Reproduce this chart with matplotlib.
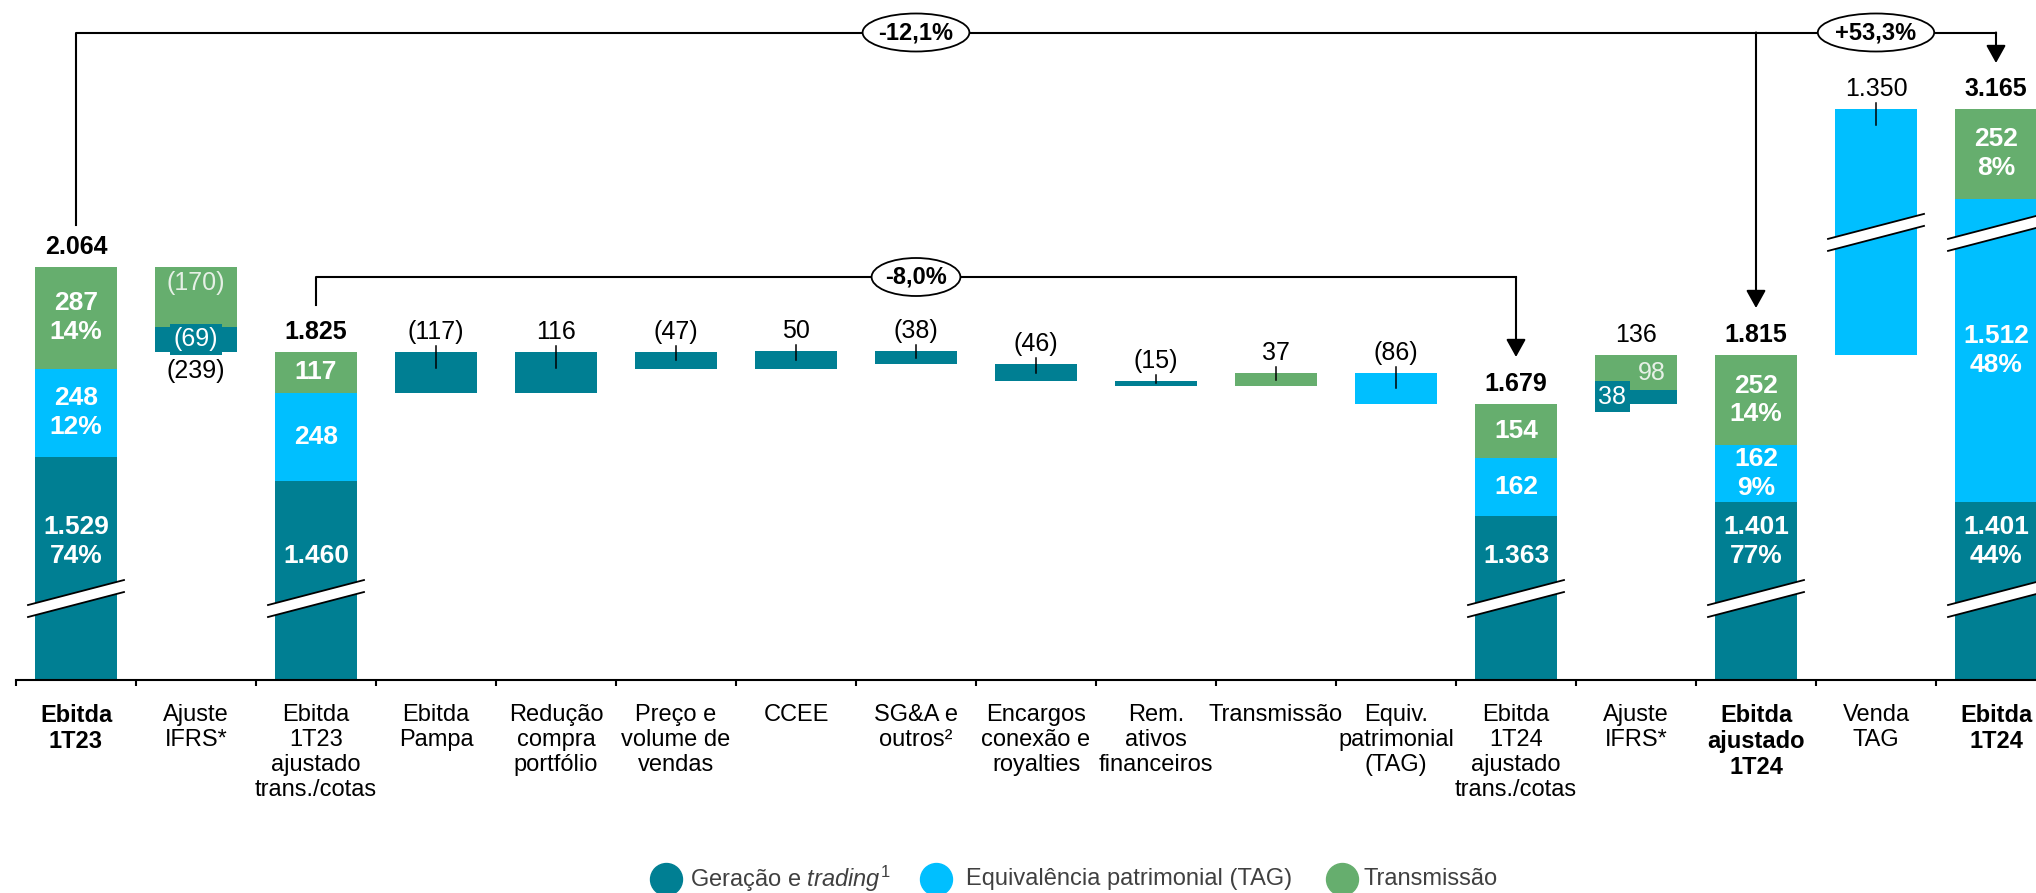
import matplotlib.pyplot as plt
from matplotlib.patches import Ellipse, Polygon
from matplotlib.lines import Line2D

plt.rcParams['font.family'] = ['Liberation Sans', 'DejaVu Sans']
plt.rcParams['mathtext.fontset'] = 'custom'
plt.rcParams['mathtext.rm'] = 'Liberation Sans'
plt.rcParams['mathtext.it'] = 'Liberation Sans:italic'

# ---- data (R$ milhões) ----
categories = ['Ebitda\n1T23', 'Ajuste\nIFRS*', 'Ebitda\n1T23\najustado\ntrans./cotas',
              'Ebitda\nPampa', 'Redução\ncompra\nportfólio', 'Preço e\nvolume de\nvendas',
              'CCEE', 'SG&A e\noutros²', 'Encargos\nconexão e\nroyalties',
              'Rem.\nativos\nfinanceiros', 'Transmissão', 'Equiv.\npatrimonial\n(TAG)',
              'Ebitda\n1T24\najustado\ntrans./cotas', 'Ajuste\nIFRS*',
              'Ebitda\najustado\n1T24', 'Venda\nTAG', 'Ebitda\n1T24']
bold_cats = [0, 14, 16]

# segments: geração e trading, equivalência (TAG), transmissão
ebitda_1t23 = [1529, 248, 287]
share_1t23 = [74, 12, 14]
ajuste_1t23 = [-69, -170]          # geração, transmissão
ebitda_1t23_aj = [1460, 248, 117]
var_values = [-117, 116, -47, 50, -38, -46, -15, 37, -86]
var_segment = [0, 0, 0, 0, 0, 0, 0, 2, 1]
ebitda_1t24_aj = [1363, 162, 154]
ajuste_1t24 = [38, 98]             # geração, transmissão
ebitda_aj_1t24 = [1401, 162, 252]
share_aj_1t24 = [77, 9, 14]
venda_tag = 1350
ebitda_1t24 = [1401, 1512, 252]
share_1t24 = [44, 48, 8]
changes = ['-12,1%', '-8,0%', '+53,3%']
legend_labels = ['Geração e $\\mathit{trading}^{1}$', 'Equivalência patrimonial (TAG)', 'Transmissão']

TEAL, BLUE, GREEN = '#007f93', '#00bfff', '#66ae6e'
colors = [TEAL, BLUE, GREEN]
LIGHT = '#e6f0e6'

# ---- layout ----
W, H = 2036, 893
BASE_PX = 680
PPU = 0.3558            # pixels per R$ mi
Y0 = 902                # value at the (cut) baseline
CUT = 658               # amount hidden by the upper break
LOW_BREAK = 1131
HIGH_BREAK = 2160
BW = 0.68
FS = 18
FS_IN = 19


def px(n):
    return n / PPU


def pix2val(p):
    return Y0 + (BASE_PX - p) / PPU


def fmt(v):
    s = f'{abs(v):,}'.replace(',', '.')
    return f'({s})' if v < 0 else s


fig = plt.figure(figsize=(W / 100, H / 100), dpi=100)
ax = fig.add_axes([16 / W, (H - BASE_PX) / H, 1 - 16 / W, BASE_PX / H])
ax.set_xlim(-0.5, 16.5 - 20 / 120)
ax.set_ylim(Y0, pix2val(0))
for s in ['top', 'right', 'left']:
    ax.spines[s].set_visible(False)
ax.spines['bottom'].set_linewidth(1.5)
ax.set_yticks([])
ax.set_xticks([i - 0.5 for i in range(17)])
ax.set_xticklabels([])
ax.tick_params(axis='x', direction='out', length=4.5, width=1.5)


def label_above(x, top, text, bold=False, line=False, bottom=None):
    ax.annotate(text, (x, top), xytext=(0, 14.4), textcoords='offset points',
                ha='center', va='center', fontsize=FS,
                fontweight='bold' if bold else 'normal', annotation_clip=False)
    if line:
        depth = min(px(16), (top - bottom) * 0.5)
        ax.plot([x, x], [top + px(6), top - depth], color='black', lw=1.1, zorder=4)


def brk(x, y):
    half, rise, gap = 0.40, px(12.5), px(6)
    poly = [(x - half, y - gap - rise), (x + half, y - gap + rise),
            (x + half, y + gap + rise), (x - half, y + gap - rise)]
    ax.add_patch(Polygon(poly, closed=True, facecolor='white', edgecolor='none',
                         zorder=3, clip_on=False))
    for g in (-gap, gap):
        ax.plot([x - half, x + half], [y + g - rise, y + g + rise], color='black',
                lw=1.3, zorder=4, clip_on=False)


def stacked(x, parts, shares=None, cut=(0, 0, 0)):
    bottom = 0
    for k, (v, c) in enumerate(zip(parts, colors)):
        h = v - cut[k]
        ax.bar(x, h, bottom=bottom, width=BW, color=c, linewidth=0, zorder=2)
        txt = fmt(v) if shares is None else f'{fmt(v)}\n{shares[k]}%'
        if k == 0:
            ty = 1250 if shares is None else 1292
        else:
            ty = bottom + h / 2
        ax.text(x, ty, txt, ha='center', va='center', color='white', fontsize=FS_IN,
                fontweight='bold', linespacing=1.25, zorder=5)
        bottom += h
    return bottom


# Ebitda 1T23
top = stacked(0, ebitda_1t23, share_1t23)
label_above(0, top, fmt(sum(ebitda_1t23)), bold=True)
brk(0, LOW_BREAK)

# Ajuste IFRS 1T23
lvl = sum(ebitda_1t23)
ax.bar(1, ajuste_1t23[1], bottom=lvl, width=BW, color=GREEN, linewidth=0, zorder=2)
ax.annotate(fmt(ajuste_1t23[1]), (1, lvl), xytext=(0, -11.5), textcoords='offset points',
            ha='center', va='center', fontsize=FS, color=LIGHT, zorder=5)
lvl += ajuste_1t23[1]
ax.bar(1, ajuste_1t23[0], bottom=lvl, width=BW, color=TEAL, linewidth=0, zorder=2)
ax.text(1, lvl + ajuste_1t23[0] / 2, fmt(ajuste_1t23[0]), ha='center', va='center',
        fontsize=FS, color='white', zorder=5,
        bbox=dict(facecolor=TEAL, edgecolor='none', pad=2.5))
lvl += ajuste_1t23[0]
ax.annotate(fmt(sum(ajuste_1t23)), (1, lvl), xytext=(0, -14), textcoords='offset points',
            ha='center', va='center', fontsize=FS)

# Ebitda 1T23 ajustado
top = stacked(2, ebitda_1t23_aj)
label_above(2, top, fmt(sum(ebitda_1t23_aj)), bold=True)
brk(2, LOW_BREAK)

# variations
lvl = sum(ebitda_1t23_aj)
for i, (v, seg) in enumerate(zip(var_values, var_segment)):
    x = 3 + i
    ax.bar(x, v, bottom=lvl, width=BW, color=colors[seg], linewidth=0, zorder=2)
    t, b = max(lvl, lvl + v), min(lvl, lvl + v)
    label_above(x, t, fmt(v), line=True, bottom=b)
    lvl += v

# Ebitda 1T24 ajustado
top = stacked(12, ebitda_1t24_aj)
label_above(12, top, fmt(sum(ebitda_1t24_aj)), bold=True)
brk(12, LOW_BREAK)

# Ajuste IFRS 1T24
lvl = sum(ebitda_1t24_aj)
ax.bar(13, ajuste_1t24[0], bottom=lvl, width=BW, color=TEAL, linewidth=0, zorder=2)
ax.text(13 - 0.2, lvl + ajuste_1t24[0] / 2, fmt(ajuste_1t24[0]), ha='center', va='center',
        fontsize=FS, color='white', zorder=5,
        bbox=dict(facecolor=TEAL, edgecolor='none', pad=2.5))
lvl += ajuste_1t24[0]
ax.bar(13, ajuste_1t24[1], bottom=lvl, width=BW, color=GREEN, linewidth=0, zorder=2)
ax.text(13 + 0.13, lvl + ajuste_1t24[1] / 2, fmt(ajuste_1t24[1]), ha='center', va='center',
        fontsize=FS, color=LIGHT, zorder=5)
lvl += ajuste_1t24[1]
label_above(13, lvl, fmt(sum(ajuste_1t24)))

# Ebitda ajustado 1T24
top = stacked(14, ebitda_aj_1t24, share_aj_1t24)
label_above(14, top, fmt(sum(ebitda_aj_1t24)), bold=True)
brk(14, LOW_BREAK)

# Venda TAG
lvl = sum(ebitda_aj_1t24)
ax.bar(15, venda_tag - CUT, bottom=lvl, width=BW, color=BLUE, linewidth=0, zorder=2)
label_above(15, lvl + venda_tag - CUT, fmt(venda_tag), line=True, bottom=lvl)
brk(15, HIGH_BREAK)

# Ebitda 1T24
top = stacked(16, ebitda_1t24, share_1t24, cut=(0, CUT, 0))
label_above(16, top, fmt(sum(ebitda_1t24)), bold=True)
brk(16, LOW_BREAK)
brk(16, HIGH_BREAK)

# category labels
for i, c in enumerate(categories):
    ax.annotate(c, (i, 0), xycoords=('data', 'axes fraction'), xytext=(0, -17.5),
                textcoords='offset points', ha='center', va='top', fontsize=17,
                fontweight='bold' if i in bold_cats else 'normal', linespacing=1.17,
                annotation_clip=False)

# connectors
arrow = dict(arrowstyle='-|>,head_length=0.45,head_width=0.25', color='black', lw=1.5,
             mutation_scale=24, shrinkA=0, shrinkB=0)
y1, y2 = pix2val(32.5), pix2val(277)
ax.plot([0, 0, 16], [pix2val(225), y1, y1], color='black', lw=1.5, clip_on=False, zorder=4)
ax.annotate('', xy=(16, pix2val(63)), xytext=(16, y1), arrowprops=arrow, annotation_clip=False)
ax.annotate('', xy=(14, pix2val(308)), xytext=(14, y1), arrowprops=arrow, annotation_clip=False)
ax.plot([2, 2, 12], [pix2val(305), y2, y2], color='black', lw=1.5, clip_on=False, zorder=4)
ax.annotate('', xy=(12, pix2val(357)), xytext=(12, y2), arrowprops=arrow, annotation_clip=False)

for (cx, cy, w), txt in zip([(7, y1, 0.89), (7, y2, 0.74), (15, y1, 0.97)], changes):
    ax.add_patch(Ellipse((cx, cy), w, px(38), facecolor='white', edgecolor='black',
                         lw=1.3, zorder=5, clip_on=False))
    ax.text(cx, cy, txt, ha='center', va='center', fontsize=17, fontweight='bold', zorder=6)

# legend
for (cx, tx), lab, c in zip([(666, 690), (936, 966), (1342, 1363)], legend_labels, colors):
    fig.add_artist(Line2D([cx / W], [1 - 879 / H], marker='o', markersize=23, color=c,
                          linestyle='none', transform=fig.transFigure))
    fig.text(tx / W, 1 - 879 / H, lab, ha='left', va='center', fontsize=17, color='#404040')

fig.savefig('out.png', dpi=100)
